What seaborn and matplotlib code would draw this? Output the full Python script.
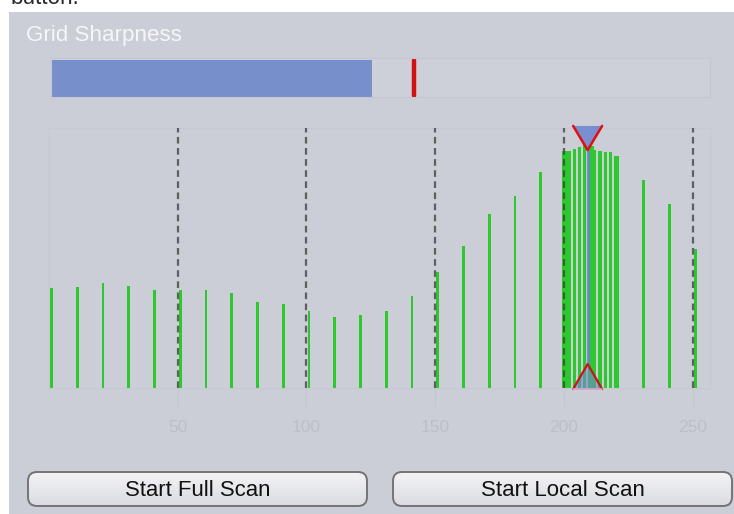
import numpy as np
import pandas as pd
import matplotlib
matplotlib.use("Agg")
import matplotlib.pyplot as plt
import seaborn as sns
from matplotlib.patches import FancyBboxPatch, Rectangle, Polygon

# ---------------- data ----------------
full_pos = [1, 11, 21, 31, 41, 51, 61, 71, 81, 91, 101, 111, 121, 131, 141,
            151, 161, 171, 181, 191, 201, 211, 221, 231, 241, 251]
full_val = [0.384, 0.388, 0.403, 0.393, 0.378, 0.377, 0.377, 0.364, 0.332, 0.322,
            0.295, 0.273, 0.281, 0.296, 0.355, 0.447, 0.547, 0.669, 0.740, 0.830,
            0.912, 0.930, 0.892, 0.800, 0.708, 0.533]
local_pos = [200, 202, 204, 206, 208, 210, 212, 214, 216, 218, 220]
local_val = [0.912, 0.912, 0.918, 0.928, 0.935, 0.935, 0.915, 0.913, 0.907, 0.909, 0.892]
peak_pos = 209.2
grid_lines = [50, 100, 150, 200, 250]
tick_labels = ["50", "100", "150", "200", "250"]
sharp_current = 0.487
sharp_peak = 0.551
title_text = "Grid Sharpness"
button_labels = ["Start Full Scan", "Start Local Scan"]

# ---------------- style ----------------
sns.set_theme(style="white")
plt.rcParams["font.family"] = ["Liberation Sans", "DejaVu Sans"]

W, H = 734, 514
PANEL = "#cbced6"
GREEN = "#2dc82d"
BLUE = "#7790cc"
RED = "#d01212"

fig = plt.figure(figsize=(W / 100, H / 100), dpi=100, facecolor="white")

def fx(x):
    return x / W

def fy(y):
    return 1 - y / H

# background axes in pixel coordinates
bg = fig.add_axes([0, 0, 1, 1], zorder=-5)
bg.set_xlim(0, W)
bg.set_ylim(H, 0)
bg.axis("off")
bg.add_patch(Rectangle((9, 12), W, H, facecolor=PANEL, edgecolor="none"))

renderer = fig.canvas.get_renderer()

def fit(t, target_w):
    bb = t.get_window_extent(renderer)
    t.set_fontsize(t.get_fontsize() * target_w / bb.width)

t0 = bg.text(11, 3.6, "button.", fontsize=16, color="#2a2a2a", va="baseline", ha="left")
fit(t0, 69)
t1 = bg.text(26, 41, title_text, fontsize=16, color="#f5f6f9", va="baseline", ha="left")
fit(t1, 156)

# buttons
grad = np.linspace(0, 1, 64)[:, None]
top_c = np.array([0.955, 0.955, 0.965])
bot_c = np.array([0.855, 0.86, 0.88])
img = top_c[None, None, :] * (1 - grad[..., None]) + bot_c[None, None, :] * grad[..., None]
img = np.repeat(img, 2, axis=1)
for (x0, x1), lab in zip([(28, 367), (393, 732)], button_labels):
    y0, y1 = 472, 506
    patch = FancyBboxPatch((x0, y0), x1 - x0, y1 - y0,
                           boxstyle="round,pad=0,rounding_size=9",
                           facecolor="none", edgecolor="#747474", lw=1.4, zorder=3)
    bg.add_patch(patch)
    im = bg.imshow(img, extent=(x0, x1, y1, y0), aspect="auto", zorder=2)
    im.set_clip_path(patch)
    tb = bg.text((x0 + x1) / 2, 490, lab, fontsize=14, color="#111111",
                 ha="center", va="center", zorder=4)
    fit(tb, 146 if "Full" in lab else 164)

# ---------------- sharpness progress bar ----------------
pa = fig.add_axes([fx(51), fy(97), fx(710 - 51), (97 - 58) / H])
pa.set_xlim(0, 1)
pa.set_ylim(0, 1)
pa.set_facecolor("#cdd0d8")
for s in pa.spines.values():
    s.set_color("#c4c7cf")
    s.set_linewidth(0.8)
pa.set_xticks([])
pa.set_yticks([])
pa.barh([0.47], [sharp_current], height=0.94, left=0, color=BLUE, linewidth=0)
pa.plot([sharp_peak, sharp_peak], [0.03, 0.95], color=RED, lw=3.2, solid_capstyle="round")

# ---------------- main chart ----------------
x_left, x_right = 48.95, 710
ppu = 2.575
ax = fig.add_axes([fx(x_left), fy(388), fx(x_right - x_left), 260 / H])
ax.set_facecolor("none")

full_df = pd.DataFrame({"pos": full_pos, "val": full_val})
local_df = pd.DataFrame({"pos": local_pos, "val": local_val})

sns.barplot(data=full_df, x="pos", y="val", native_scale=True, orient="x",
            width=0.1, color=GREEN, saturation=1, linewidth=0, errorbar=None,
            ax=ax, zorder=2)
sns.barplot(data=local_df, x="pos", y="val", native_scale=True, orient="x",
            width=0.6, color=GREEN, saturation=1, linewidth=0, errorbar=None,
            ax=ax, zorder=2)

ax.vlines(grid_lines, 0, 1, colors="#3c3c3c", linestyles=(0, (3, 2)),
          lw=1.6, alpha=0.75, zorder=3)

ax.set_xlim(0, (x_right - x_left) / ppu)
ax.set_ylim(0, 1)

# peak markers
hw = 14.5 / ppu
top_tri = Polygon([[peak_pos - hw, 1.008], [peak_pos + hw, 1.008], [peak_pos, 0.915]],
                  closed=True, facecolor="#7088d0", alpha=0.9, edgecolor="none",
                  zorder=5, clip_on=False)
bot_tri = Polygon([[peak_pos - hw, -0.004], [peak_pos + hw, -0.004], [peak_pos, 0.092]],
                  closed=True, facecolor="#7088d0", alpha=0.6, edgecolor="none",
                  zorder=5, clip_on=False)
ax.add_patch(top_tri)
ax.add_patch(bot_tri)
ax.plot([peak_pos, peak_pos], [0.092, 0.915], color="#6f86c8", lw=2.4, alpha=0.85,
        zorder=4, clip_on=False)
ax.plot([peak_pos - hw, peak_pos, peak_pos + hw], [1.008, 0.915, 1.008],
        color="#dd1111", lw=1.8, zorder=6, clip_on=False)
ax.plot([peak_pos - hw, peak_pos, peak_pos + hw], [-0.004, 0.092, -0.004],
        color="#c81515", lw=1.6, zorder=6, clip_on=False)
ax.plot([peak_pos - hw, peak_pos + hw], [-0.004, -0.004], color="#d8a2c4",
        lw=1.2, zorder=6, clip_on=False)

ax.set_xticks(grid_lines)
ax.set_xticklabels(tick_labels)
ax.set_yticks([])
ax.set_xlabel("")
ax.set_ylabel("")
ax.tick_params(axis="x", length=14, width=1, color="#c4c7cf", pad=9,
               labelsize=12.5, labelcolor="#bcbfc8", direction="out", bottom=True)
for s in ax.spines.values():
    s.set_color("#c6c9d1")
    s.set_linewidth(0.8)

fig.savefig("out.png", dpi=100, facecolor="white")
